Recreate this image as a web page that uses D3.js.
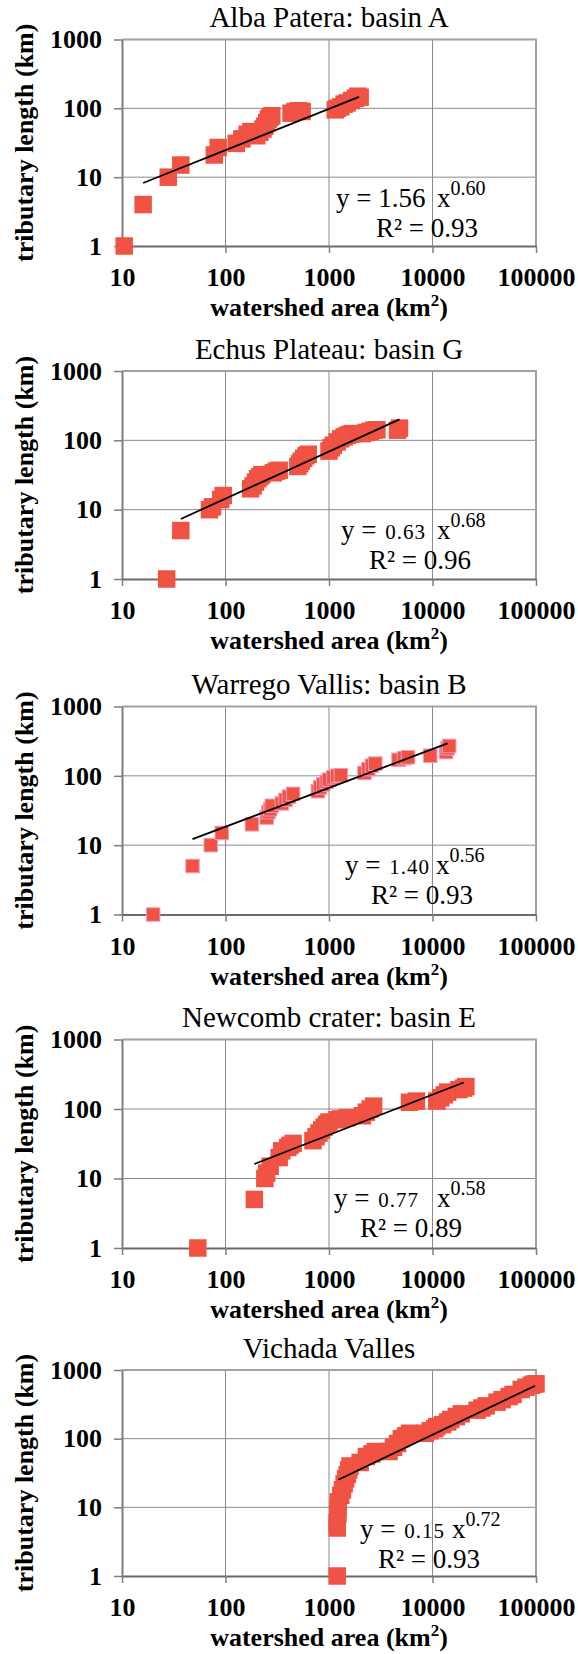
<!DOCTYPE html>
<html>
<head>
<meta charset="utf-8">
<script src="https://cdn.jsdelivr.net/npm/d3@7"></script>
<style>
  body { margin: 0; background: #fff; }
  svg { display: block; }
  text { font-family: "Liberation Serif", "Times New Roman", serif; }
</style>
</head>
<body>
<svg id="chart" width="578" height="1654"></svg>
<script>
// ---- data: tributary length (km) against watershed area (km²) per basin ----
const panelTitles = ["Alba Patera: basin A", "Echus Plateau: basin G", "Warrego Vallis: basin B",
                     "Newcomb crater: basin E", "Vichada Valles"];

const albaArea   = [10.5, 16, 28, 37, 78, 85, 127, 144, 162, 176, 200, 215, 230, 240, 250, 260, 270, 280,
                    430, 470, 510, 550, 1150, 1200, 1300, 1400, 1500, 1650, 1800, 1900, 2000];
const albaLength = [1, 4, 10, 15, 21, 27, 31, 36, 42, 46, 40, 45, 50, 55, 62, 70, 75, 78,
                    85, 90, 92, 90, 95, 100, 105, 115, 120, 130, 140, 150, 145];

const echusArea   = [27, 37, 70, 75, 90, 95, 175, 185, 195, 205, 215, 225, 290, 310, 330,
                     500, 520, 540, 570, 600, 630, 1000, 1050, 1100, 1200, 1300, 1400, 1500, 1600, 1700,
                     2100, 2300, 2500, 2700, 2900, 4600, 4800];
const echusLength = [1, 5, 10, 11, 14, 16, 20, 22, 25, 28, 30, 32, 34, 36, 37,
                     42, 46, 50, 55, 60, 63, 70, 78, 85, 95, 105, 112, 118, 122, 125,
                     125, 130, 135, 140, 142, 140, 150];

const warregoArea   = [20, 48, 72, 92, 180, 250, 260, 270, 280, 350, 380, 410, 450,
                       780, 820, 880, 950, 1000, 1100, 1200, 1300, 2200, 2400, 2600, 2800,
                       4700, 5300, 5800, 9500, 13500, 14000, 14500];
const warregoLength = [1, 5, 10, 15, 20, 25, 30, 33, 37, 40, 45, 50, 55,
                       60, 68, 75, 82, 88, 95, 100, 102, 110, 125, 140, 150,
                       170, 180, 185, 195, 220, 250, 270];

const newcombArea   = [54, 190, 240, 250, 270, 330, 350, 400, 420, 450,
                       700, 750, 800, 850, 900, 950, 1000, 1200, 1300, 1500,
                       2100, 2300, 2500, 2700, 6000, 7000, 11000, 12000, 13000, 14000,
                       18000, 20000, 21000];
const newcombLength = [1, 5, 10, 12, 15, 20, 25, 28, 30, 32,
                       35, 40, 45, 50, 55, 60, 65, 70, 72, 75,
                       80, 90, 100, 110, 125, 130, 130, 145, 160, 175,
                       190, 200, 210];

const vichadaArea   = [1200, 1200, 1200, 1220, 1220, 1230, 1300, 1350, 1400, 1450, 1500, 1550, 1600,
                       2000, 2300, 2600, 2800, 3800, 4200, 4600, 5000, 5500, 6000,
                       8500, 9500, 10500, 11000, 12500, 14000, 15000, 17000, 19000,
                       27000, 30000, 33000, 42000, 47000, 55000, 60000,
                       72000, 80000, 90000, 95000, 100000];
const vichadaLength = [1, 5, 6, 8, 10, 12, 15, 18, 22, 26, 30, 35, 40,
                       45, 55, 60, 65, 65, 75, 85, 100, 110, 120,
                       120, 130, 140, 150, 160, 175, 190, 210, 230,
                       260, 280, 300, 340, 370, 410, 440,
                       520, 560, 600, 620, 630];

// power-law fits  y = a · x^b
const fitCoef     = [1.56, 0.63, 1.40, 0.77, 0.15];
const fitExponent = [0.60, 0.68, 0.56, 0.58, 0.72];
const fitR2       = [0.93, 0.96, 0.93, 0.89, 0.93];
const fitFrom     = [16, 37, 48, 190, 1230];
const fitTo       = [1950, 4800, 14000, 20000, 98000];

const xTickValues = [10, 100, 1000, 10000, 100000];
const yTickValues = [1, 10, 100, 1000];

// ---- layout ----
const plotLeft = 122, plotRight = 536;
const panelTop    = [39.5, 371, 706.5, 1039.5, 1370];
const panelHeight = [206.5, 208, 208, 208.5, 206];
const eqLayout = [ // x of "y = a", x of "x^b", x of "R²"
  [336, 437, 376], [341, 437, 369], [345, 436, 371], [334, 437, 360], [360, 452, 378]
];
const markerSize = [17.5, 17.5, 13.5, 17.5, 17.5];

const series = [
  [albaArea, albaLength], [echusArea, echusLength], [warregoArea, warregoLength],
  [newcombArea, newcombLength], [vichadaArea, vichadaLength]
];

const svg = d3.select("#chart");
const x = d3.scaleLog().domain([10, 100000]).range([plotLeft, plotRight]);

series.forEach(([area, len], i) => {
  const top = panelTop[i], bottom = top + panelHeight[i];
  const y = d3.scaleLog().domain([1, 1000]).range([bottom, top]);
  const g = svg.append("g");

  // inner grid lines
  g.selectAll(".vgrid").data(xTickValues.slice(1, -1)).join("line")
    .attr("x1", d => x(d)).attr("x2", d => x(d)).attr("y1", top).attr("y2", bottom)
    .attr("stroke", "#8a8a8a").attr("stroke-width", 1);
  g.selectAll(".hgrid").data(yTickValues.slice(1, -1)).join("line")
    .attr("x1", plotLeft).attr("x2", plotRight).attr("y1", d => y(d)).attr("y2", d => y(d))
    .attr("stroke", "#8a8a8a").attr("stroke-width", 1);

  // plot frame, top and right edges
  g.append("line").attr("x1", plotLeft).attr("x2", plotRight + 1).attr("y1", top).attr("y2", top)
    .attr("stroke", "#a89e9b").attr("stroke-width", 2);
  g.append("line").attr("x1", plotRight).attr("x2", plotRight).attr("y1", top).attr("y2", bottom)
    .attr("stroke", "#a89e9b").attr("stroke-width", 2);

  // axes
  const yAxis = d3.axisLeft(y).tickValues(yTickValues).tickFormat(d3.format("d"))
    .tickSize(8).tickSizeOuter(0).tickPadding(12);
  const ya = g.append("g").attr("transform", `translate(${plotLeft},0)`).call(yAxis);
  ya.select(".domain").attr("stroke", "#857b79").attr("stroke-width", 2);
  ya.selectAll(".tick line").attr("stroke", "#857b79").attr("stroke-width", 1.5);
  ya.selectAll(".tick text").attr("fill", "#000")
    .style("font-size", "26px").style("font-weight", "bold");

  const xAxis = d3.axisBottom(x).tickValues(xTickValues).tickFormat(d3.format("d"))
    .tickSize(7).tickSizeOuter(0).tickPadding(15);
  const xa = g.append("g").attr("transform", `translate(0,${bottom})`).call(xAxis);
  xa.select(".domain").attr("stroke", "#6f6866").attr("stroke-width", 2);
  xa.selectAll(".tick line").attr("stroke", "#857b79").attr("stroke-width", 1.5);
  xa.selectAll(".tick text").attr("fill", "#000")
    .style("font-size", "26px").style("font-weight", "bold");

  // square markers
  const s = markerSize[i];
  g.selectAll(".pt").data(d3.zip(area, len)).join("rect")
    .attr("x", d => x(d[0]) - s / 2).attr("y", d => y(d[1]) - s / 2)
    .attr("width", s).attr("height", s)
    .attr("fill", "#f05343")
    .attr("stroke", i === 2 ? "#f59ac0" : "none").attr("stroke-width", i === 2 ? 1 : 0);

  // fitted power law
  const a = fitCoef[i], b = fitExponent[i];
  g.append("path")
    .attr("d", d3.line().x(d => x(d)).y(d => y(a * Math.pow(d, b)))([fitFrom[i], fitTo[i]]))
    .attr("stroke", "#000").attr("stroke-width", 1.8).attr("fill", "none");

  // panel title
  g.append("text").attr("x", (plotLeft + plotRight) / 2).attr("y", top - 12.5)
    .attr("text-anchor", "middle").style("font-size", "29px").text(panelTitles[i]);

  // axis titles
  g.append("text")
    .attr("transform", `translate(33,${(top + bottom) / 2}) rotate(-90)`)
    .attr("text-anchor", "middle").style("font-size", "26px").style("font-weight", "bold")
    .text("tributary length (km)");
  const xt = g.append("text").attr("x", (plotLeft + plotRight) / 2).attr("y", bottom + 70)
    .attr("text-anchor", "middle").style("font-size", "26px").style("font-weight", "bold");
  xt.append("tspan").text("watershed area (km");
  xt.append("tspan").attr("dy", -10).style("font-size", "17px").text("2");
  xt.append("tspan").attr("dy", 10).text(")");

  // fit equation and R²
  const [eqX, xX, rX] = eqLayout[i];
  const eqBase = top + 167.5, rBase = top + 197.5;
  const eq = g.append("text").attr("x", eqX).attr("y", eqBase).style("font-size", "27px");
  if (i === 0) {
    eq.text("y = " + a.toFixed(2));
  } else {
    eq.append("tspan").text("y = ");
    eq.append("tspan").attr("dx", 2).style("font-size", "21px").style("letter-spacing", "1px")
      .text(a.toFixed(2));
  }
  const xe = g.append("text").attr("x", xX).attr("y", eqBase).style("font-size", "27px");
  xe.append("tspan").text("x");
  xe.append("tspan").attr("dy", -12).style("font-size", "20px").text(b.toFixed(2));
  g.append("text").attr("x", rX).attr("y", rBase).style("font-size", "27px")
    .text("R² = " + fitR2[i].toFixed(2));
});
</script>
</body>
</html>
